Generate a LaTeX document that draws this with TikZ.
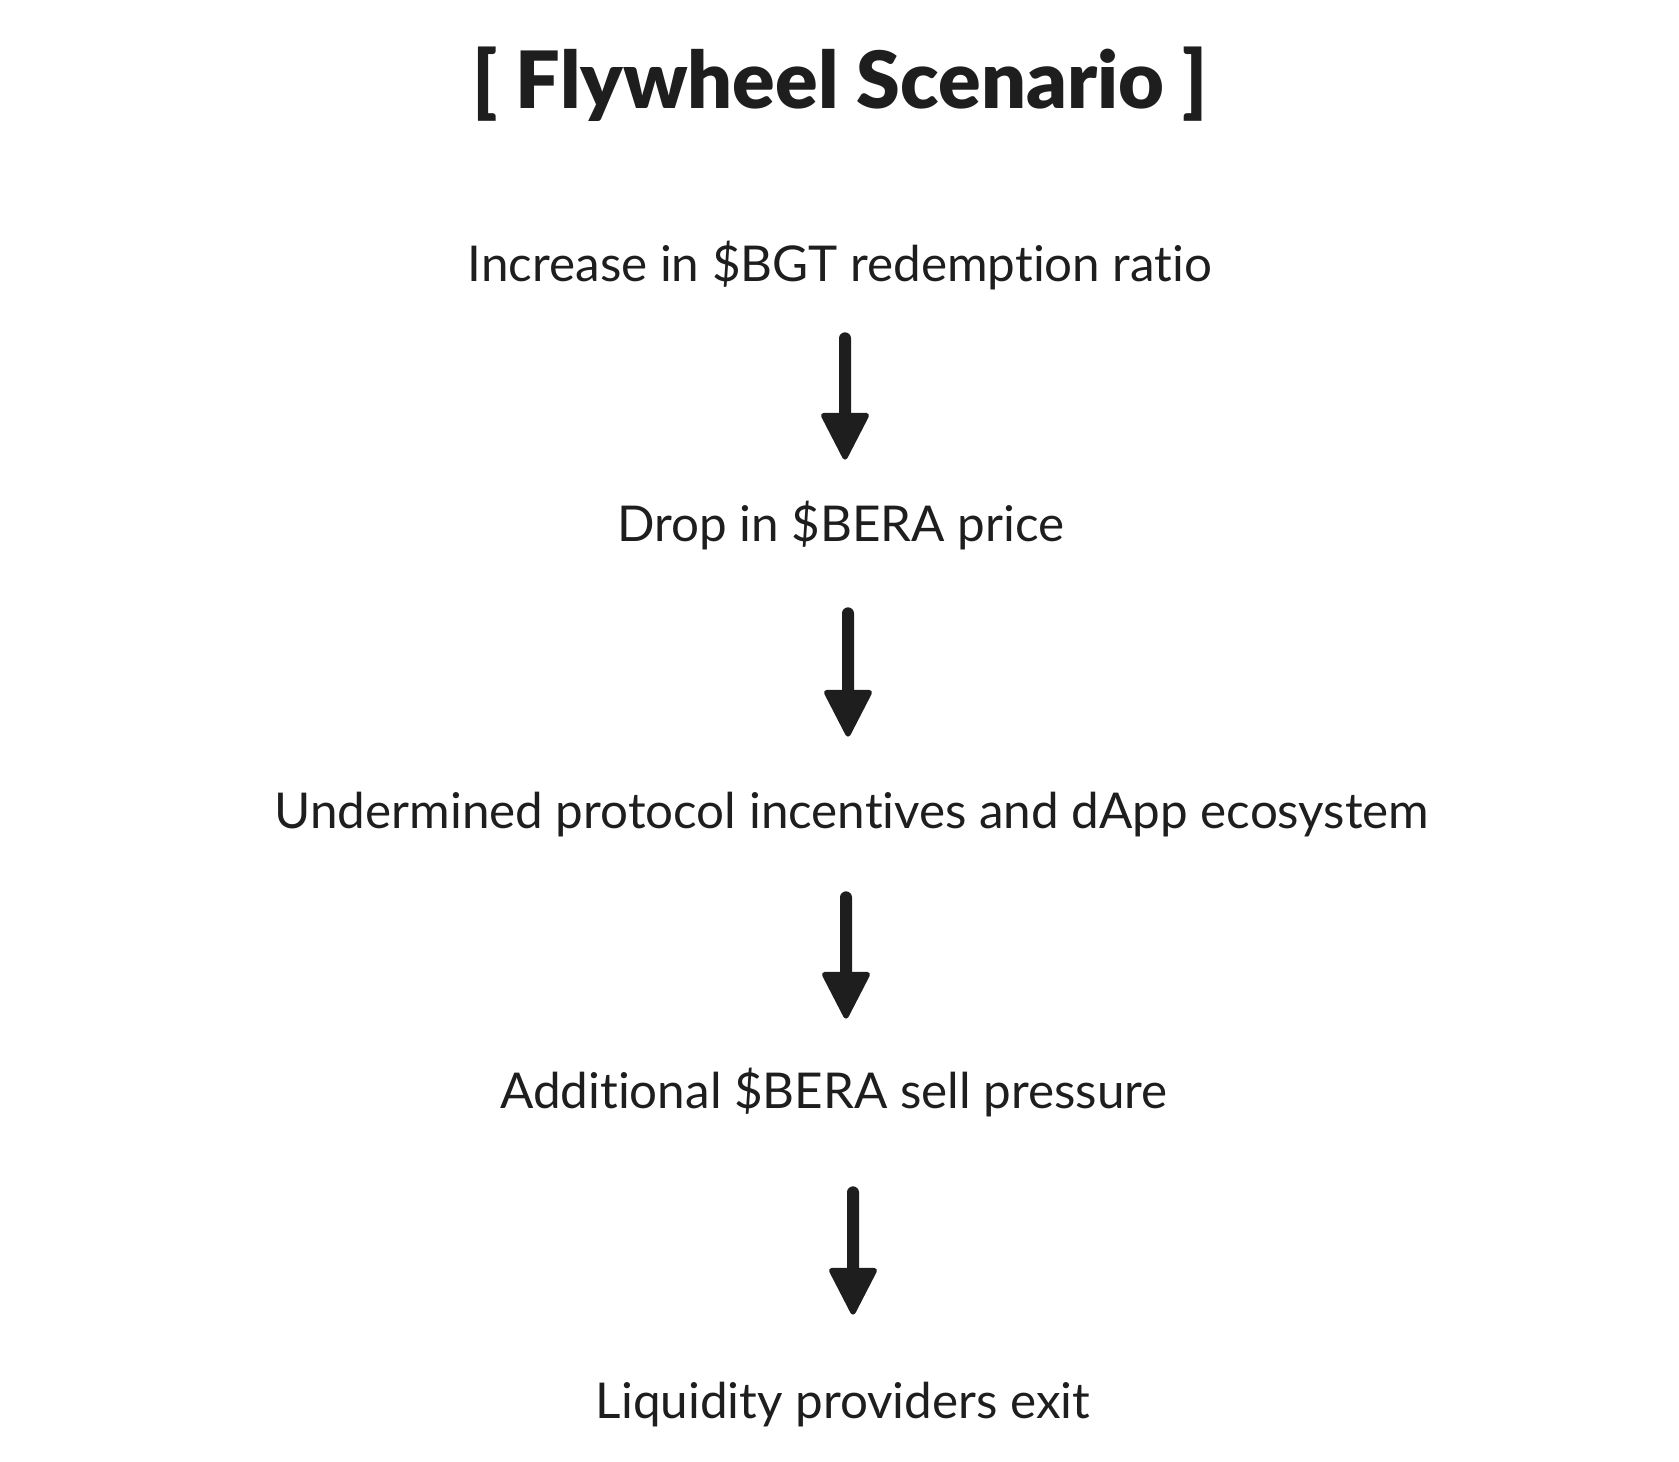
\documentclass[tikz,border=0pt]{standalone}
\usepackage{fontspec}
\setmainfont{Lato}[Ligatures=NoCommon]
\newfontfamily\titlefont{Lato Black}[Ligatures=NoCommon]
\usetikzlibrary{arrows.meta}
\definecolor{ink}{HTML}{1E1E1E}

\begin{document}
\begin{tikzpicture}[x=0.02cm,y=-0.02cm,
    stage/.style={anchor=base,inner sep=0pt,text=ink,text height=0.7cm,text depth=0.3cm,
      font=\fontsize{28.1}{33}\selectfont},
    flow/.style={line width=0.24cm,line cap=round,draw=ink,
      -{Triangle[width=1cm,length=1cm,round,line width=3pt]}}]
  \useasboundingbox (0,0) rectangle (1679,1462);

  % title
  \node[anchor=base,inner sep=0pt,text=ink,font=\titlefont\fontsize{45}{52}\selectfont]
    (Title) at (840,109) {[ Flywheel Scenario ]};

  % stages of the scenario
  \coordinate (pos1) at (840,282);
  \coordinate (pos2) at (841,541);
  \coordinate (pos3) at (852,828);
  \coordinate (pos4) at (834,1108);
  \coordinate (pos5) at (843,1418);

  \node[stage] (stage1) at (pos1) {Increase in \$BGT redemption ratio};
  \node[stage] (stage2) at (pos2) {Drop in \$BERA price};
  \node[stage] (stage3) at (pos3) {Undermined protocol incentives and dApp ecosystem};
  \node[stage] (stage4) at (pos4) {Additional \$BERA sell pressure};
  \node[stage] (stage5) at (pos5) {Liquidity providers exit};

  \draw[flow,shorten <=0.82cm,shorten >=0.92cm]
    ([xshift=0.1cm]stage1.south) -- ([xshift=0.08cm]stage2.north);
  \draw[flow,shorten <=1.14cm,shorten >=1.12cm]
    ([xshift=0.14cm]stage2.south) -- ([xshift=-0.08cm]stage3.north);
  \draw[flow,shorten <=1.08cm,shorten >=1.08cm]
    ([xshift=-0.12cm]stage3.south) -- ([xshift=0.24cm]stage4.north);
  \draw[flow,shorten <=1.38cm,shorten >=1.36cm]
    ([xshift=0.38cm]stage4.south) -- ([xshift=0.2cm]stage5.north);
\end{tikzpicture}
\end{document}
